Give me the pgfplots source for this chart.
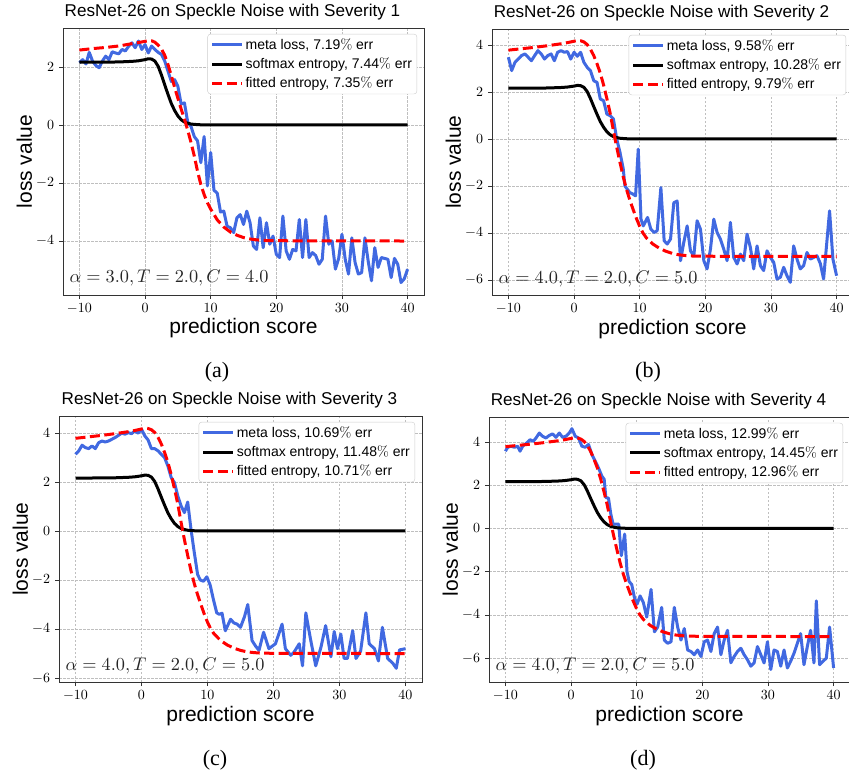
\documentclass[border=0pt]{standalone}
\usepackage[no-math]{fontspec}
\setmainfont{Liberation Sans}
\newfontfamily\capfont{Liberation Serif}
\usepackage{pgfplots}
\pgfplotsset{compat=1.18}
\definecolor{metablue}{RGB}{65,105,225}

% softmax entropy, same in every panel
\pgfplotstableread{
x y
-10 2.16
-8 2.16
-6 2.165
-4 2.17
-3 2.18
-2 2.19
-1 2.21
0 2.25
0.5 2.28
1 2.27
1.5 2.2
2 2.02
2.5 1.72
3 1.38
3.5 1.05
4 0.74
4.5 0.5
5 0.31
5.5 0.18
6 0.1
6.5 0.06
7 0.03
8 0.01
9 0.0
40 0.0
}\softmax

% fitted entropy, alpha=3, C=4
\pgfplotstableread{
x y
-10 2.58
-8 2.63
-6 2.67
-4 2.72
-2 2.8
-1 2.84
0 2.88
0.5 2.9
1 2.9
1.5 2.85
2 2.75
2.5 2.62
3 2.4
3.5 2.08
4 1.7
4.5 1.3
5 0.92
5.5 0.55
6 0.2
6.5 -0.18
7 -0.6
7.5 -1.07
8 -1.6
8.5 -2.05
9 -2.4
9.5 -2.68
10 -2.9
11 -3.27
12 -3.52
13 -3.69
14 -3.8
15 -3.88
16 -3.93
17 -3.96
18 -3.98
20 -3.99
40 -4.0
}\fitA

% fitted entropy, alpha=4, C=5
\pgfplotstableread{
x y
-10 3.78
-8 3.84
-6 3.9
-4 3.97
-2 4.05
-1 4.1
0 4.16
0.5 4.19
1 4.18
1.5 4.13
2 4.02
2.5 3.82
3 3.55
3.5 3.2
4 2.8
4.5 2.3
5 1.72
5.5 1.1
6 0.35
6.5 -0.35
7 -1.0
7.5 -1.62
8 -2.15
8.5 -2.6
9 -3.0
9.5 -3.38
10 -3.72
10.5 -4.0
11 -4.2
12 -4.47
13 -4.65
14 -4.78
15 -4.87
16 -4.93
17 -4.96
18 -4.98
20 -4.99
40 -5.0
}\fitB

\pgfplotstableread{
x y
-10 2.14
-9.5 2.25
-9 2.1
-8.5 2.5
-8 2.2
-7.5 2.05
-7 1.97
-6.5 2.2
-6 2.37
-5.5 2.25
-5 2.52
-4.5 2.48
-4 2.45
-3.5 2.6
-3 2.55
-2.5 2.71
-2 2.83
-1.5 2.66
-1 2.89
-0.5 2.6
0 2.77
0.5 2.48
1 2.72
1.5 2.6
2 2.5
2.5 2.43
3 2.2
3.5 1.85
4 1.5
4.5 1.56
5 1.33
5.5 0.72
6 0.76
6.5 0.1
7 -0.05
7.5 -0.4
8 -0.55
8.5 -1.3
9 -0.4
9.5 -2.1
10 -0.95
10.5 -2.25
11 -2.35
11.5 -3.0
12 -2.97
12.5 -3.49
13 -3.54
13.5 -3.71
14 -3.2
14.5 -3.09
15 -3.43
15.5 -2.97
16 -3.37
16.5 -4.17
17 -4.29
17.5 -3.2
18 -4.23
18.5 -3.37
19 -4.11
19.5 -3.83
20 -4.46
20.5 -4.57
21 -3.14
21.5 -4.34
22 -4.63
22.5 -4.29
23 -4.34
23.5 -3.26
24 -4.57
24.5 -3.26
25 -4.57
25.5 -4.4
26 -4.5
26.5 -4.8
27 -4.63
27.5 -3.14
28 -4.11
28.5 -4.0
29 -4.97
29.5 -4.6
30 -3.77
30.5 -4.63
31 -5.14
31.5 -3.89
32 -4.74
32.5 -5.14
33 -5.09
33.5 -3.89
34 -4.7
34.5 -5.37
35 -4.23
35.5 -4.91
36 -4.57
36.5 -4.6
37 -4.63
37.5 -5.26
38 -4.6
38.5 -4.8
39 -5.43
39.5 -5.3
40 -4.97
}\metaA

\pgfplotstableread{
x y
-10 3.48
-9.5 2.91
-9 3.26
-8.5 3.4
-8 3.55
-7.5 3.62
-7 3.48
-6.5 3.33
-6 3.55
-5.5 3.76
-5 3.62
-4.5 3.4
-4 3.55
-3.5 3.62
-3 3.33
-2.5 3.69
-2 3.76
-1.5 3.69
-1 3.72
-0.5 3.4
0 3.69
0.5 3.52
1 3.69
1.5 3.26
2 3.05
2.5 2.91
3 2.48
3.5 2.41
4 1.7
4.5 1.63
5 1.06
5.5 0.99
6 0.85
6.5 0.0
7 -0.57
7.5 -1.28
7.75 -2.0
8.5 -2.28
9.0 -2.35
9.37 -2.42
9.78 -0.43
10.2 -3.41
10.54 -3.7
11.2 -3.34
11.7 -3.84
12.2 -3.98
12.67 -3.9
13.23 -2.07
13.73 -4.33
14.19 -4.47
14.7 -4.26
15.2 -2.71
15.71 -2.64
16.22 -5.18
16.72 -4.4
17.23 -3.7
17.74 -4.76
18.25 -4.97
18.75 -3.48
19.26 -3.84
19.77 -5.18
20.27 -5.53
20.78 -4.69
21.29 -3.41
21.8 -3.98
22.3 -4.26
22.81 -4.69
23.32 -5.18
23.82 -3.55
24.33 -5.04
24.84 -5.32
25.35 -4.9
25.85 -5.18
26.36 -4.05
26.87 -4.62
27.37 -5.53
27.88 -4.55
28.39 -5.39
28.89 -5.6
29.4 -4.76
29.91 -5.04
30.42 -5.25
30.92 -5.96
31.43 -5.89
31.94 -5.46
32.44 -5.82
32.95 -6.1
33.46 -4.55
33.97 -5.11
34.47 -5.53
34.98 -5.39
35.49 -4.83
35.99 -5.11
36.5 -5.04
37.01 -4.97
37.52 -5.3
38.02 -5.96
38.93 -3.06
39.44 -5.11
40.0 -5.82
}\metaB

\pgfplotstableread{
x y
-10 3.13
-9.5 3.27
-9 3.5
-8.5 3.4
-8 3.36
-7.5 3.47
-7 3.36
-6.5 3.6
-6 3.67
-5.5 3.63
-5 3.67
-4.5 3.74
-4 3.81
-3.5 3.9
-3 3.99
-2.5 3.95
-2 4.01
-1.5 3.97
-1 4.08
-0.5 3.99
0 4.15
0.5 3.88
1 3.71
1.5 3.36
2 3.36
2.5 3.27
3 3.13
3.5 2.99
4 2.65
4.5 2.18
5 1.97
5.5 1.43
6 1.02
6.5 0.75
7 1.18
7.5 0.07
8 -0.88
8.5 -1.77
8.9 -2.0
9.4 -2.05
9.9 -1.87
10.4 -2.2
10.9 -2.8
11.4 -3.34
11.8 -3.4
12.2 -3.35
12.7 -4.07
13.5 -3.6
14.0 -3.75
14.5 -3.8
15.0 -3.93
15.6 -3.5
16.1 -3.0
16.75 -4.47
17.3 -4.7
17.8 -4.87
18.5 -4.13
19.3 -4.8
19.8 -4.7
20.3 -4.6
21.3 -3.8
21.8 -4.8
22.6 -5.07
23.1 -4.95
23.9 -4.6
24.4 -5.5
24.9 -3.34
25.6 -4.4
26.4 -5.5
27.2 -4.73
27.9 -3.86
28.7 -5.13
29.2 -4.1
29.7 -4.8
30.2 -4.2
30.7 -5.2
31.2 -5.2
32.0 -4.07
32.5 -5.2
33.2 -4.9
34.0 -3.34
34.5 -4.6
35.3 -4.8
35.9 -5.3
36.5 -3.93
37.3 -5.2
38.1 -5.4
38.6 -5.6
39.1 -4.85
40.0 -4.8
}\metaC

\pgfplotstableread{
x y
-10 3.57
-9.65 3.75
-9.14 3.8
-8.63 3.75
-8.13 3.8
-7.77 3.57
-7.37 3.8
-6.76 3.95
-6.25 4.1
-5.74 4.03
-5.34 4.18
-4.83 4.41
-4.33 4.26
-3.82 4.18
-3.31 4.3
-2.81 4.37
-2.3 4.21
-1.79 4.41
-1.29 4.21
-0.78 4.26
-0.27 4.41
0.13 4.61
0.64 4.26
1.14 4.18
1.65 3.8
2.16 3.75
2.66 3.88
3.17 3.42
3.68 3.11
4.18 2.8
4.69 2.42
5.05 2.27
5.3 1.43
5.7 1.4
6.06 0.66
6.4 0.2
6.75 0.2
7.26 0.2
7.66 -1.26
8.17 -0.26
8.53 -2.0
8.85 -2.45
9.25 -2.6
9.66 -3.2
10.06 -3.5
10.52 -3.12
11.02 -3.43
11.53 -4.1
12.19 -2.82
12.7 -4.78
13.2 -4.56
13.81 -3.65
14.21 -5.16
14.72 -5.31
15.23 -5.24
15.73 -3.65
16.24 -4.56
16.75 -5.16
17.25 -4.63
17.76 -5.62
18.27 -5.69
18.77 -5.84
19.28 -5.62
19.79 -5.92
20.29 -5.24
20.8 -5.16
21.31 -5.69
21.81 -4.86
22.32 -4.56
22.83 -5.84
23.33 -5.16
23.84 -4.71
24.35 -6.21
24.85 -5.92
25.36 -5.69
25.87 -5.54
26.37 -5.84
26.88 -6.07
27.39 -6.37
27.89 -6.22
28.4 -5.46
28.91 -5.84
29.41 -6.22
29.92 -5.24
30.43 -6.52
30.93 -5.62
31.44 -5.69
31.95 -6.37
32.45 -5.62
32.96 -6.45
33.46 -6.14
33.97 -5.77
34.48 -5.31
34.98 -4.86
35.49 -6.3
36.0 -5.46
36.5 -4.71
37.01 -6.22
37.37 -3.35
37.87 -6.3
38.38 -6.14
38.89 -6.0
39.39 -4.56
40.0 -6.45
}\metaD

\pgfplotsset{
  panel/.style={
    scale only axis, anchor=north west,
    xmin=-12.5, xmax=42.5,
    xtick={-10,0,10,20,30,40},
    grid=major,
    grid style={dash pattern=on 2.5pt off 1.5pt, black!25, line width=0.5pt},
    axis line style={black!80, line width=0.8pt},
    tick style={black!80, line width=0.6pt},
    major tick length=4pt, tick align=outside,
    xtick pos=left, ytick pos=left,
    tick label style={font=\fontsize{10}{10}\selectfont, scale=1.4},
    title style={font=\fontsize{17.1}{17.1}\selectfont, anchor=base, at={(0.5,1)},
      xshift=-11pt, yshift=6pt},
    xlabel={prediction score}, ylabel={loss value},
    label style={font=\fontsize{21}{21}\selectfont},
    xlabel style={at={(axis description cs:0.5,0)}, anchor=base, yshift=-39pt},
    ylabel style={at={(axis description cs:-0.086,0.5)}, anchor=base},
    legend cell align=left,
    legend image code/.code={\draw[##1] (0pt,0pt) -- (30pt,0pt);},
    legend style={at={(0.981,0.978)}, anchor=north east, draw=black!20,
      rounded corners=3pt, fill=white, inner xsep=3pt, inner ysep=2.5pt,
      row sep=3pt, font=\fontsize{14}{15}\selectfont},
  },
  meta/.style={metablue, line width=3pt, line join=round},
  soft/.style={black, line width=3pt, line join=round},
  fit/.style={red, line width=3pt, dash pattern=on 10pt off 4.5pt},
}
\tikzset{
  params/.style={anchor=base west, inner sep=0pt, text=black!85,
    font=\fontsize{10}{10}\selectfont, scale=1.83},
}

\begin{document}
\begin{tikzpicture}

\begin{axis}[panel, at={(63pt,-28pt)}, width=361pt, height=267pt,
  ymin=-5.86, ymax=3.34, ytick={-4,-2,0,2},
  title={ResNet-26 on Speckle Noise with Severity 1}]
\addplot[meta] table {\metaA};
\addlegendentry{meta loss, 7.19$\%$ err}
\addplot[soft] table {\softmax};
\addlegendentry{softmax entropy, 7.44$\%$ err}
\addplot[fit] table {\fitA};
\addlegendentry{fitted entropy, 7.35$\%$ err}
\node[params] at (rel axis cs:0.017,0.045) {$\alpha=3.0, T=2.0, C=4.0$};
\end{axis}

\begin{axis}[panel, at={(492pt,-29pt)}, width=361pt, height=266pt,
  ymin=-6.64, ymax=4.68, ytick={-6,-4,-2,0,2,4},
  title={ResNet-26 on Speckle Noise with Severity 2}]
\addplot[meta] table {\metaB};
\addlegendentry{meta loss, 9.58$\%$ err}
\addplot[soft] table {\softmax};
\addlegendentry{softmax entropy, 10.28$\%$ err}
\addplot[fit] table {\fitB};
\addlegendentry{fitted entropy, 9.79$\%$ err}
\node[params] at (rel axis cs:0.017,0.045) {$\alpha=4.0, T=2.0, C=5.0$};
\end{axis}

\begin{axis}[panel, at={(59pt,-416pt)}, width=363pt, height=266pt,
  ymin=-6.16, ymax=4.69, ytick={-6,-4,-2,0,2,4},
  title={ResNet-26 on Speckle Noise with Severity 3}]
\addplot[meta] table {\metaC};
\addlegendentry{meta loss, 10.69$\%$ err}
\addplot[soft] table {\softmax};
\addlegendentry{softmax entropy, 11.48$\%$ err}
\addplot[fit] table {\fitB};
\addlegendentry{fitted entropy, 10.71$\%$ err}
\node[params] at (rel axis cs:0.017,0.045) {$\alpha=4.0, T=2.0, C=5.0$};
\end{axis}

\begin{axis}[panel, at={(489pt,-417pt)}, width=361pt, height=265pt,
  ymin=-7.1, ymax=5.15, ytick={-6,-4,-2,0,2,4},
  title={ResNet-26 on Speckle Noise with Severity 4}]
\addplot[meta] table {\metaD};
\addlegendentry{meta loss, 12.99$\%$ err}
\addplot[soft] table {\softmax};
\addlegendentry{softmax entropy, 14.45$\%$ err}
\addplot[fit] table {\fitB};
\addlegendentry{fitted entropy, 12.96$\%$ err}
\node[params] at (rel axis cs:0.017,0.045) {$\alpha=4.0, T=2.0, C=5.0$};
\end{axis}

\begin{scope}[font=\capfont\fontsize{22}{22}\selectfont]
\node at (217pt,-372pt) {(a)};
\node at (648pt,-372pt) {(b)};
\node at (215pt,-760pt) {(c)};
\node at (643pt,-760pt) {(d)};
\end{scope}

\pgfresetboundingbox
\useasboundingbox (0pt,0pt) rectangle (849pt,-774pt);
\end{tikzpicture}
\end{document}
